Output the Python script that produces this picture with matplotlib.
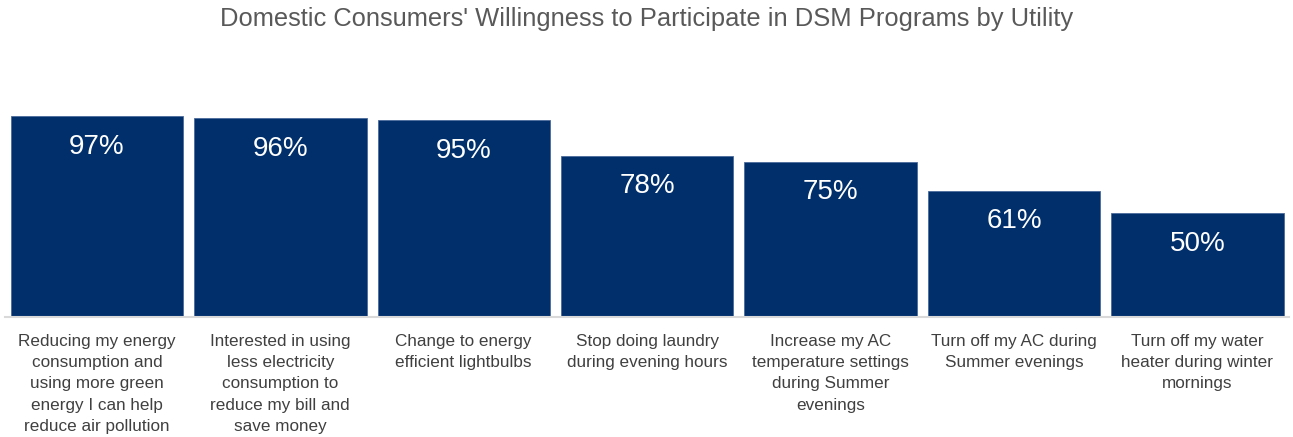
import matplotlib.pyplot as plt

plt.rcParams['font.family'] = ['Liberation Sans', 'DejaVu Sans']

categories = [
    "Reducing my energy\nconsumption and\nusing more green\nenergy I can help\nreduce air pollution",
    "Interested in using\nless electricity\nconsumption to\nreduce my bill and\nsave money",
    "Change to energy\nefficient lightbulbs",
    "Stop doing laundry\nduring evening hours",
    "Increase my AC\ntemperature settings\nduring Summer\nevenings",
    "Turn off my AC during\nSummer evenings",
    "Turn off my water\nheater during winter\nmornings",
]
willing = [97, 96, 95, 78, 75, 61, 50]

bar_color = "#002F6C"

fig = plt.figure(figsize=(12.93, 4.37), dpi=100)
ax = fig.add_axes([0.004, 0.2746, 0.993, 0.4737])

x = range(len(categories))
bars = ax.bar(x, willing, width=0.94, color=bar_color, edgecolor="#4A6A9A", linewidth=0.6)

# value labels sit inside the top of each bar
for xi, v in zip(x, willing):
    ax.text(xi, v - 14.8, f"{v}%", ha="center", va="center", color="white", fontsize=20)

ax.set_xlim(-0.5, len(categories) - 0.5)
ax.set_ylim(0, 100)
ax.set_xticks(list(x))
ax.set_xticklabels(categories, fontsize=12.3, color="#404040", linespacing=1.53, va="top")
ax.tick_params(axis="x", length=0, pad=12)
ax.set_yticks([])

for s in ["top", "right", "left"]:
    ax.spines[s].set_visible(False)
ax.spines["bottom"].set_color("#D9D9D9")
ax.spines["bottom"].set_linewidth(1.5)

fig.suptitle("Domestic Consumers' Willingness to Participate in DSM Programs by Utility",
             y=0.985, fontsize=18.4, color="#595959")

fig.savefig("out.png", dpi=100)
